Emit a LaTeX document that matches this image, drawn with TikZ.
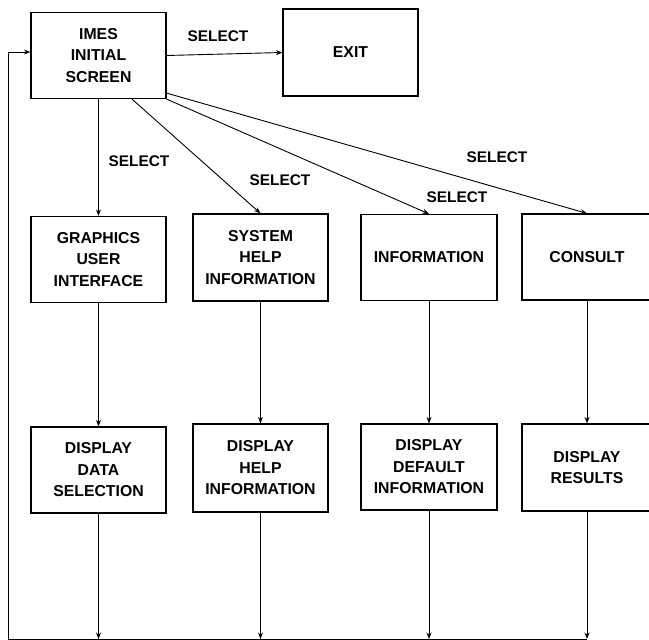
\documentclass[tikz,border=0pt]{standalone}
\usepackage{fontspec}
\setmainfont{Liberation Sans}
\usetikzlibrary{arrows.meta}
\tikzset{
    blok/.style={draw, line width=1.2pt, inner sep=0pt, align=center,
        minimum width=135pt, minimum height=86pt,
        font=\fontsize{15.8}{21.5}\selectfont\bfseries},
    lbl/.style={font=\fontsize{15.4}{18}\selectfont\bfseries},
    conn/.style={line width=0.9pt, ->}
}
\begin{document}
\begin{tikzpicture}[x=1pt, y=-1pt, >={Stealth[length=6.5pt,width=5pt]}]
    \useasboundingbox (0,0) rectangle (649,640);
    \node[blok] (imes) at (98.5,55.5) {IMES\\INITIAL\\SCREEN};
    \node[blok, minimum height=87pt] (exit) at (350.5,52.5) {EXIT};
    \node[blok] (gui) at (98.5,259.5) {GRAPHICS\\USER\\INTERFACE};
    \node[blok, minimum height=87pt] (syshelp) at (260.5,257.5) {SYSTEM\\HELP\\INFORMATION};
    \node[blok, minimum width=136pt] (info) at (429,257.5) {INFORMATION};
    \node[blok, minimum width=130pt] (consult) at (587,257) {CONSULT};
    \node[blok] (dispdata) at (98.5,470) {DISPLAY\\DATA\\SELECTION};
    \node[blok, minimum height=88pt] (disphelp) at (260.5,468) {DISPLAY\\HELP\\INFORMATION};
    \node[blok, minimum width=136pt] (dispdef) at (429,467) {DISPLAY\\DEFAULT\\INFORMATION};
    \node[blok, minimum width=130pt, minimum height=87pt] (dispres) at (587,467.5) {DISPLAY\\RESULTS};

    \draw[conn] (imes.east) -- (exit.west);
    \draw[conn] (imes.south) -- (gui.north);
    \draw[conn] ([xshift=33.5pt]imes.south) -- (syshelp.north);
    \draw[conn] (imes.south east) -- (info.north);
    \draw[conn] ([yshift=6pt]imes.south east) -- (consult.north);
    \node[lbl] (sel1) at (218,36) {SELECT};
    \node[lbl] (sel2) at (139,161) {SELECT};
    \node[lbl] (sel3) at (280,180) {SELECT};
    \node[lbl] (sel4) at (457,197) {SELECT};
    \node[lbl] (sel5) at (497,157) {SELECT};

    \draw[conn] (gui.south) -- (dispdata.north);
    \draw[conn] (syshelp.south) -- (disphelp.north);
    \draw[conn] (info.south) -- (dispdef.north);
    \draw[conn] (consult.south) -- (dispres.north);

    \coordinate (busL) at (8,639);
    \coordinate (busR) at (587,639);
    \coordinate (ret) at (8,52);
    \draw[conn] (dispdata.south) -- (dispdata.south |- busL);
    \draw[conn] (disphelp.south) -- (disphelp.south |- busL);
    \draw[conn] (dispdef.south) -- (dispdef.south |- busL);
    \draw[conn] (dispres.south) -- (busR);
    \draw[conn] (busR) -- (busL) -- (ret) -- (ret -| imes.west);
\end{tikzpicture}
\end{document}
